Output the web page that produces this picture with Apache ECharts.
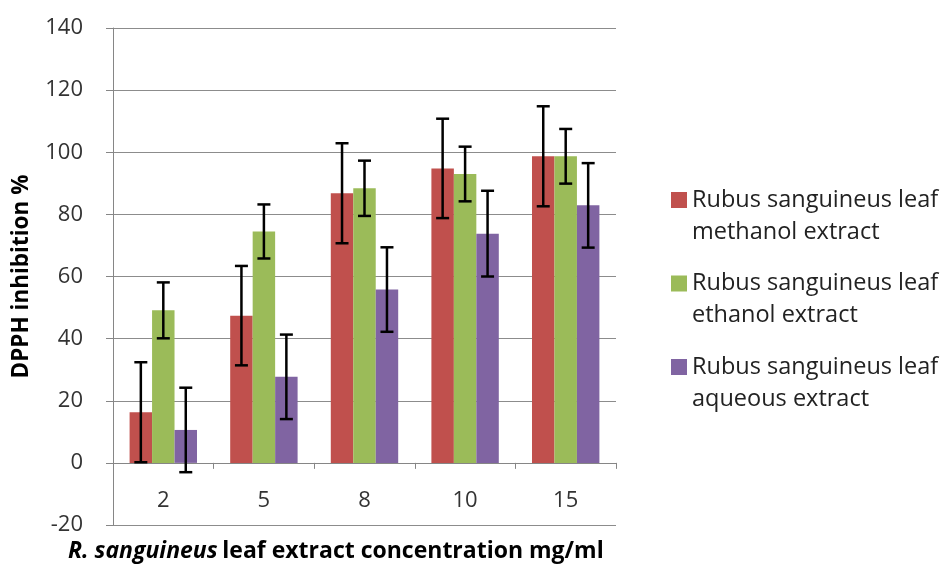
<!DOCTYPE html>
<html><head><meta charset="utf-8">
<script src="https://cdn.jsdelivr.net/npm/echarts@6/dist/echarts.min.js"></script>
<style>html,body{margin:0;padding:0;background:#fff;overflow:hidden}#c{width:940px;height:570px}</style>
</head><body><div id="c"></div>
<script>
const categories = ['2', '5', '8', '10', '15'];
const seriesNames = [
  'Rubus sanguineus leaf\nmethanol extract',
  'Rubus sanguineus leaf\nethanol extract',
  'Rubus sanguineus leaf\naqueous extract'
];
const methanol = [16.3, 47.4, 86.8, 94.8, 98.7];
const ethanol = [49.1, 74.5, 88.4, 93.0, 98.7];
const aqueous = [10.6, 27.7, 55.8, 73.8, 82.9];
const methanolErr = [16.1, 16.0, 16.1, 16.0, 16.1];
const ethanolErr = [9.0, 8.7, 8.9, 8.8, 8.8];
const aqueousErr = [13.6, 13.6, 13.6, 13.8, 13.6];
const yTicks = [-20, 0, 20, 40, 60, 80, 100, 120, 140];
const colors = ['#C0504D', '#9BBB59', '#8064A2'];

const values = [methanol, ethanol, aqueous];
const errs = [methanolErr, ethanolErr, aqueousErr];
const GAP = 0.33;
const FONT = 'Open Sans';

function errSeries(k) {
  return {
    type: 'custom',
    z: 10,
    silent: true,
    data: values[k].map((v, i) => [i, v - errs[k][i], v + errs[k][i]]),
    encode: { x: 0, y: [1, 2] },
    renderItem: function (params, api) {
      const ci = api.value(0);
      const lo = api.coord([ci, api.value(1)]);
      const hi = api.coord([ci, api.value(2)]);
      const cw = api.size([1, 0])[0];
      const bw = cw * (1 - GAP) / 3;
      const x = lo[0] + (k - 1) * bw;
      const cap = 6.5;
      const st = { stroke: '#000', lineWidth: 2.5, fill: null };
      return {
        type: 'group',
        children: [
          { type: 'line', shape: { x1: x, y1: lo[1], x2: x, y2: hi[1] }, style: st },
          { type: 'line', shape: { x1: x - cap, y1: hi[1], x2: x + cap, y2: hi[1] }, style: st },
          { type: 'line', shape: { x1: x - cap, y1: lo[1], x2: x + cap, y2: lo[1] }, style: st }
        ]
      };
    }
  };
}

const iconPath = 'path://M0,0h10v10h-10z M0,29.99h0.01v0.01h-0.01z';

const option = {
  animation: false,
  backgroundColor: '#fff',
  textStyle: { fontFamily: FONT },
  grid: { left: 113, right: 324, top: 28, bottom: 45 },
  title: {
    left: 68, top: 540, padding: 0,
    text: '{bi|R. sanguineus} {b|leaf extract concentration mg/ml}',
    textStyle: {
      rich: {
        bi: { fontFamily: FONT, fontWeight: 'bold', fontStyle: 'italic', fontSize: 23, color: '#000' },
        b: { fontFamily: FONT, fontWeight: 'bold', fontSize: 23, color: '#000' }
      }
    }
  },
  legend: {
    orient: 'vertical',
    left: 666, top: 179,
    itemWidth: 16, itemHeight: 48,
    itemGap: 19.5,
    icon: iconPath,
    data: seriesNames.map((n) => ({ name: n, icon: iconPath })),
    textStyle: { fontFamily: FONT, fontSize: 23.5, color: '#222', lineHeight: 32 }
  },
  xAxis: {
    type: 'category',
    data: categories,
    axisLine: { onZero: true, lineStyle: { color: '#868686', width: 1 } },
    axisTick: { show: true, length: 6, lineStyle: { color: '#868686' } },
    axisLabel: { margin: -35, fontSize: 22, color: '#333', fontFamily: FONT },
    splitLine: { show: false }
  },
  yAxis: {
    type: 'value',
    min: -20, max: 140, interval: 20,
    name: 'DPPH inhibition %',
    nameLocation: 'middle',
    nameGap: 80,
    nameTextStyle: { fontFamily: FONT, fontWeight: 'bold', fontSize: 22.5, color: '#000' },
    axisLine: { show: true, lineStyle: { color: '#868686', width: 1 } },
    axisTick: { show: true, length: 7, lineStyle: { color: '#868686' } },
    axisLabel: { margin: 30, fontSize: 22, color: '#333', fontFamily: FONT,
      formatter: v => yTicks.indexOf(v) >= 0 ? String(v) : '' },
    splitLine: { show: true, lineStyle: { color: '#8c8c8c', width: 1 } }
  },
  series: [
    ...values.map((arr, k) => ({
      name: seriesNames[k],
      type: 'bar',
      data: arr,
      barGap: '0%',
      barCategoryGap: (GAP * 100) + '%',
      itemStyle: { color: colors[k] }
    })),
    errSeries(0), errSeries(1), errSeries(2)
  ]
};
const chart = echarts.init(document.getElementById('c'), null, { renderer: 'canvas' });
chart.setOption(option);
</script>
</body></html>
